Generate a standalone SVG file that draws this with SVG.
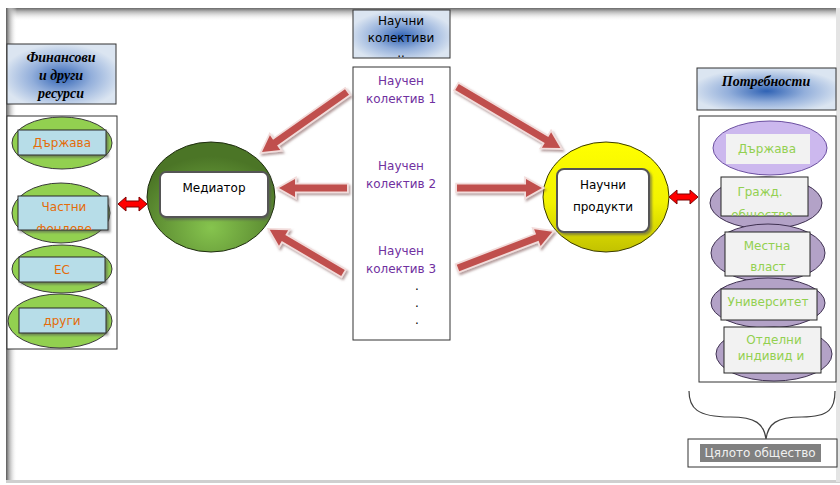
<svg xmlns="http://www.w3.org/2000/svg" width="840" height="485" viewBox="0 0 840 485">
<defs>
<style>
.t{font-family:"DejaVu Sans","Noto Sans",sans-serif;font-size:12px;text-anchor:middle}
.ti{font-family:"Liberation Serif","DejaVu Serif",serif;font-size:14px;font-weight:bold;font-style:italic;text-anchor:middle;fill:#000}
.or{fill:#e46c0a}
.pu{fill:#7030a0}
.gr{fill:#92d050}
.bk{fill:#000}
.box{stroke:#333;stroke-width:1}
.lg{fill:#92d050;stroke:#3a3a3a;stroke-width:1}
.lr{fill:#b7dde8;stroke:#2b2b2b;stroke-width:1}
.pe{fill:#b3a2c7;stroke:#3f3151;stroke-width:1}
.pr{fill:#f2f2f2;stroke:#262626;stroke-width:1}
.arr{fill:#c0504d;stroke:#f2dcdb;stroke-width:3.5;paint-order:stroke;stroke-linejoin:miter}
.dbl{fill:#ff0000;stroke:#7f0000;stroke-width:1}
</style>
<radialGradient id="tg" cx="50%" cy="55%" r="55%">
<stop offset="0" stop-color="#2f62b4"/>
<stop offset="0.5" stop-color="#93afdb"/>
<stop offset="1" stop-color="#dbe5f1"/>
</radialGradient>
<radialGradient id="mg" cx="50%" cy="78%" r="65%">
<stop offset="0" stop-color="#86c44e"/>
<stop offset="1" stop-color="#4b7526"/>
</radialGradient>
<linearGradient id="yg" x1="0" y1="0" x2="0" y2="1">
<stop offset="0" stop-color="#ffff00"/>
<stop offset="0.55" stop-color="#f2f200"/>
<stop offset="1" stop-color="#c2c200"/>
</linearGradient>
<linearGradient id="topsh" x1="0" y1="0" x2="0" y2="1">
<stop offset="0" stop-color="#6a6a6a"/>
<stop offset="0.25" stop-color="#b0b0b0"/>
<stop offset="1" stop-color="#ffffff" stop-opacity="0"/>
</linearGradient>
<linearGradient id="leftsh" x1="0" y1="0" x2="1" y2="0">
<stop offset="0" stop-color="#5a5a5a"/>
<stop offset="0.25" stop-color="#a8a8a8"/>
<stop offset="1" stop-color="#ffffff" stop-opacity="0"/>
</linearGradient>
<filter id="ds" x="-20%" y="-20%" width="150%" height="150%">
<feDropShadow dx="1.5" dy="2" stdDeviation="1" flood-color="#7a5050" flood-opacity="0.55"/>
</filter>
<filter id="rs" x="-10%" y="-10%" width="130%" height="140%">
<feDropShadow dx="2" dy="2" stdDeviation="1" flood-color="#555" flood-opacity="0.6"/>
</filter>
<clipPath id="c1"><rect x="18" y="196" width="90" height="34"/></clipPath>
<clipPath id="c2"><rect x="721" y="177" width="87" height="39"/></clipPath>
<clipPath id="c3"><rect x="353" y="10" width="97" height="48"/></clipPath>
</defs>

<rect x="0" y="0" width="840" height="485" fill="#ffffff"/>
<g id="frame">
<rect x="6" y="8" width="834" height="474" fill="#ffffff"/>
<rect x="6" y="8" width="834" height="13" fill="url(#topsh)"/>
<rect x="6" y="8" width="11" height="474" fill="url(#leftsh)"/>
<rect x="6" y="480" width="834" height="3" fill="#cfcfcf"/>
<rect x="836" y="8" width="4" height="474" fill="#e4e4e4"/>
</g>

<g id="resources-title">
<rect x="7" y="44" width="109" height="60" fill="url(#tg)" class="box"/>
<text class="ti" x="61" y="62">Финансови</text>
<text class="ti" x="61" y="80">и други</text>
<text class="ti" x="61" y="98">ресурси</text>
</g>

<g id="resources">
<rect x="7" y="116" width="110" height="233" fill="#ffffff" class="box"/>
<g id="res-state">
<ellipse cx="62" cy="143" rx="50" ry="26" class="lg"/>
<rect x="18" y="130" width="88" height="25" class="lr" filter="url(#rs)"/>
<text class="t or" x="62" y="147" font-size="13">Държава</text>
</g>
<g id="res-private">
<ellipse cx="61" cy="213" rx="49" ry="30" class="lg"/>
<rect x="18" y="196" width="90" height="34" class="lr" filter="url(#rs)"/>
<g clip-path="url(#c1)">
<text class="t or" x="64" y="211" font-size="11">Частни</text>
<text class="t or" x="64" y="233" font-size="11">фондове</text>
</g>
</g>
<g id="res-eu">
<ellipse cx="62" cy="269" rx="50" ry="24" class="lg"/>
<rect x="19" y="257" width="86" height="25" class="lr" filter="url(#rs)"/>
<text class="t or" x="62" y="274">ЕС</text>
</g>
<g id="res-other">
<ellipse cx="60" cy="321" rx="52" ry="27" class="lg"/>
<rect x="19" y="308" width="87" height="25" class="lr" filter="url(#rs)"/>
<text class="t or" x="62" y="325">други</text>
</g>
</g>

<g id="mediator">
<ellipse cx="211" cy="197" rx="64" ry="55" fill="url(#mg)" stroke="#1f2d10" stroke-width="1"/>
<rect x="160" y="172" width="108" height="45" rx="6" fill="#ffffff" stroke="#555" stroke-width="2" filter="url(#rs)"/>
<text class="t bk" x="214" y="192" font-size="13">Медиатор</text>
</g>

<g id="teams-title">
<rect x="353" y="10" width="97" height="48" fill="url(#tg)" class="box"/>
<g clip-path="url(#c3)">
<text class="t bk" x="401" y="25">Научни</text>
<text class="t bk" x="401" y="42">колективи</text>
<text class="t bk" x="401" y="57">..</text>
</g>
</g>

<g id="teams">
<rect x="353" y="67" width="97" height="273" fill="#ffffff" class="box"/>
<text class="t pu" x="401" y="85">Научен</text>
<text class="t pu" x="401" y="103">колектив 1</text>
<text class="t pu" x="401" y="170">Научен</text>
<text class="t pu" x="401" y="188">колектив 2</text>
<text class="t pu" x="401" y="255">Научен</text>
<text class="t pu" x="401" y="273">колектив 3</text>
<text class="t bk" x="417" y="290">.</text>
<text class="t bk" x="417" y="307">.</text>
<text class="t bk" x="417" y="324">.</text>
</g>

<g id="products">
<ellipse cx="606" cy="197" rx="63" ry="55" fill="url(#yg)" stroke="#3a3a00" stroke-width="1"/>
<rect x="557" y="169" width="92" height="63" rx="7" fill="#ffffff" stroke="#555" stroke-width="2" filter="url(#rs)"/>
<text class="t bk" x="603" y="189">Научни</text>
<text class="t bk" x="603" y="211">продукти</text>
</g>

<g id="needs-title">
<rect x="697" y="68" width="139" height="42" fill="url(#tg)" class="box"/>
<text class="ti" x="766" y="86">Потребности</text>
</g>

<g id="needs">
<rect x="699" y="116" width="137" height="266" fill="#ffffff" class="box"/>
<g id="need-state">
<ellipse cx="770" cy="148" rx="57" ry="27" fill="#ccb8ee" stroke="#6b4fa0" stroke-width="1"/>
<rect x="726" y="134" width="84" height="30" fill="#f2f2f2"/>
<text class="t gr" x="767" y="153" font-size="14">Държава</text>
</g>
<g id="need-civil">
<ellipse cx="766" cy="203" rx="56" ry="26" class="pe"/>
<rect x="721" y="177" width="87" height="39" class="pr"/>
<g clip-path="url(#c2)">
<text class="t gr" x="760" y="196" font-size="11">Гражд.</text>
<text class="t gr" x="762" y="219" font-size="11">общество</text>
</g>
</g>
<g id="need-local">
<ellipse cx="768" cy="253" rx="57" ry="29" class="pe"/>
<rect x="725" y="232" width="85" height="44" class="pr"/>
<text class="t gr" x="767" y="250" font-size="14">Местна</text>
<text class="t gr" x="768" y="271" font-size="13">власт</text>
</g>
<g id="need-univ">
<ellipse cx="768" cy="303" rx="57" ry="25" class="pe"/>
<rect x="721" y="289" width="96" height="31" class="pr"/>
<text class="t gr" x="768" y="306" font-size="11">Университет</text>
</g>
<g id="need-indiv">
<ellipse cx="774" cy="354" rx="58" ry="27" class="pe"/>
<rect x="724" y="327" width="97" height="46" class="pr"/>
<text class="t gr" x="774" y="344">Отделни</text>
<text class="t gr" x="771" y="360">индивид и</text>
</g>
</g>

<g id="society">
<path d="M689,391 C689,408 697,417 730,417 C756,417 764,424 766,439 C768,424 776,417 802,417 C830,417 835,408 835,391" fill="none" stroke="#404040" stroke-width="1.2"/>
<rect x="688" y="439" width="149" height="28" fill="#ffffff" class="box"/>
<rect x="700" y="444" width="121" height="18" fill="#808080"/>
<text class="t" x="760" y="457" fill="#f0f0f0">Цялото общество</text>
</g>

<g id="connectors">
<g filter="url(#ds)">
<path class="arr" transform="translate(347,92) rotate(144.8)" d="M0,-3.5 H88 V-9 L104,0 L88,9 V3.5 H0 Z"/>
<path class="arr" transform="translate(347,188) rotate(180)" d="M0,-3.5 H52 V-9 L68,0 L52,9 V3.5 H0 Z"/>
<path class="arr" transform="translate(343,273) rotate(210.5)" d="M0,-3.5 H69 V-9 L85,0 L69,9 V3.5 H0 Z"/>
<path class="arr" transform="translate(457,87) rotate(30.6)" d="M0,-3.5 H104 V-9 L120,0 L104,9 V3.5 H0 Z"/>
<path class="arr" transform="translate(457,188)" d="M0,-3.5 H69 V-9 L85,0 L69,9 V3.5 H0 Z"/>
<path class="arr" transform="translate(458,268) rotate(-21)" d="M0,-3.5 H85 V-9 L101,0 L85,9 V3.5 H0 Z"/>
</g>
<path class="dbl" d="M118,204 L126,197 V201 H139 V197 L147,204 L139,211 V207 H126 V211 Z"/>
<path class="dbl" d="M669,197 L677,190 V194 H690 V190 L698,197 L690,204 V200 H677 V204 Z"/>
</g>
</svg>
